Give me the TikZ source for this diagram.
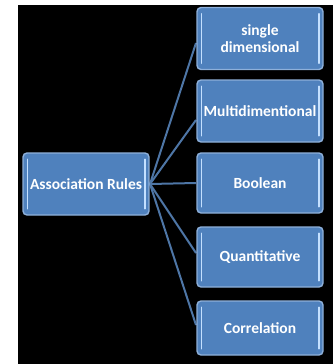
\documentclass[tikz,border=0pt]{standalone}
\usepackage{fontspec}
\setmainfont{Carlito}
\definecolor{boxfill}{HTML}{4F81BD}
\definecolor{boxedge}{HTML}{8EB0DA}
\definecolor{barcol}{HTML}{C4E0FF}
\definecolor{linkcol}{HTML}{4E76A6}
\begin{document}
\begin{tikzpicture}[x=1pt,y=-1pt,
  itembox/.style={draw=boxedge, line width=1.4pt, fill=boxfill, rounded corners=4pt,
    text=white, font=\bfseries\fontsize{15.5}{16.5}\selectfont, align=center,
    minimum width=126pt, inner sep=0pt},
  link/.style={draw=linkcol, line width=2pt},
  edgebar/.style={draw=barcol, line width=1.6pt, line cap=round}]
  % page and dark panel
  \fill[white] (0,0) rectangle (333,364);
  \fill[black] (18,5) rectangle (333,364);
  \useasboundingbox (0,0) rectangle (333,364);

  % connector ends on the leaf side
  \coordinate (hub) at (150,184);
  \coordinate (e1) at (196,43);
  \coordinate (e2) at (196,120);
  \coordinate (e3) at (196,183);
  \coordinate (e4) at (196,253);
  \coordinate (e5) at (196,325);
  \foreach \e in {e1,e2,e3,e4,e5}
    \draw[link] (hub) -- (\e);

  % root and leaves
  \node[itembox, minimum height=62pt] (root) at (86,184) {Association Rules};
  \node[itembox, minimum height=62pt] (b1) at (260,38.5) {single\\dimensional};
  \node[itembox, minimum height=62pt] (b2) at (260,111) {Multidimentional};
  \node[itembox, minimum height=60pt] (b3) at (260,183) {Boolean};
  \node[itembox, minimum height=60pt] (b4) at (260,257) {Quantitative};
  \node[itembox, minimum height=54pt] (b5) at (260,328) {Correlation};

  % light strips along the sides of each box
  \foreach \n in {root,b1,b2,b3,b4,b5} {
    \draw[edgebar] ([xshift=5pt,yshift=-7pt]\n.north west) -- ([xshift=5pt,yshift=7pt]\n.south west);
    \draw[edgebar] ([xshift=-5pt,yshift=-7pt]\n.north east) -- ([xshift=-5pt,yshift=7pt]\n.south east);
  }
\end{tikzpicture}
\end{document}
